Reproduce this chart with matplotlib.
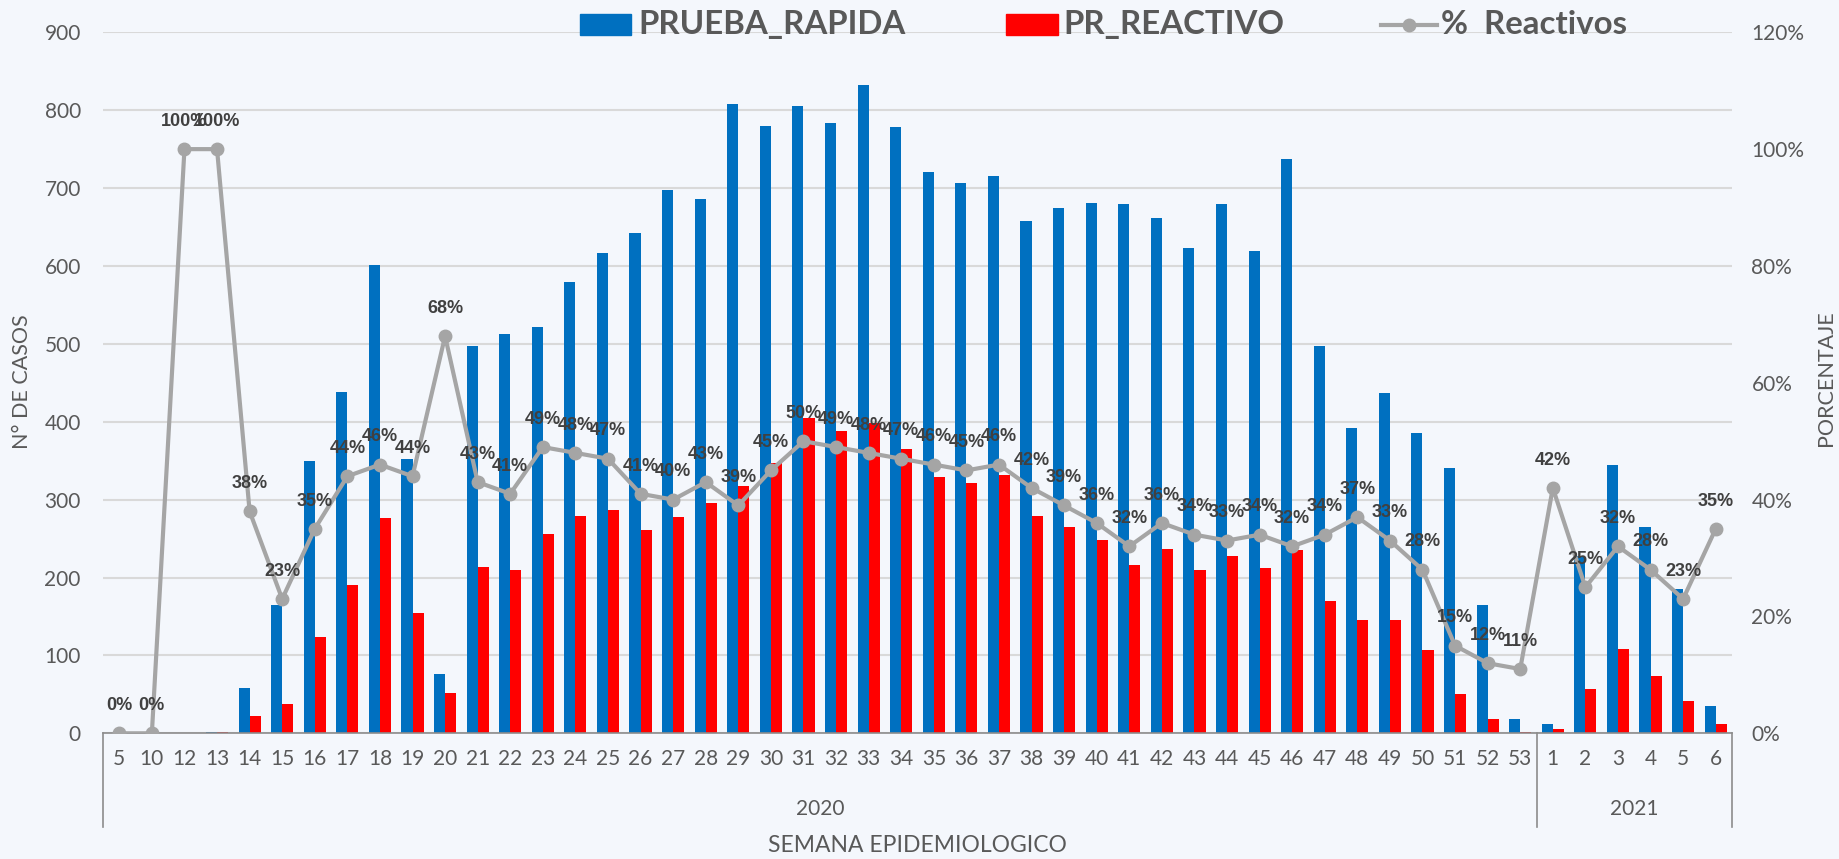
import numpy as np
import matplotlib
matplotlib.use("Agg")
import matplotlib.pyplot as plt
from matplotlib.patches import Rectangle
from matplotlib.lines import Line2D

weeks = ["5", "10", "12", "13", "14", "15", "16", "17", "18", "19", "20", "21", "22", "23", "24",
         "25", "26", "27", "28", "29", "30", "31", "32", "33", "34", "35", "36", "37", "38", "39",
         "40", "41", "42", "43", "44", "45", "46", "47", "48", "49", "50", "51", "52", "53",
         "1", "2", "3", "4", "5", "6"]
years = ["2020", "2021"]
n_2020 = 44

prueba_rapida = [0, 0, 1, 2, 58, 165, 350, 438, 601, 352, 76, 497, 513, 521, 580,
                 617, 642, 698, 686, 808, 780, 806, 783, 832, 779, 721, 706, 716, 658, 674,
                 681, 679, 661, 623, 679, 619, 737, 497, 392, 437, 386, 341, 165, 18,
                 12, 228, 344, 265, 185, 35]
pr_reactivo = [0, 0, 1, 2, 22, 37, 123, 190, 276, 155, 52, 213, 210, 256, 279,
               287, 261, 278, 296, 318, 347, 405, 388, 398, 365, 329, 321, 331, 279, 265,
               248, 216, 236, 210, 227, 212, 235, 170, 145, 145, 107, 50, 19, 2,
               5, 57, 108, 73, 42, 12]
pct_reactivos = [0, 0, 100, 100, 38, 23, 35, 44, 46, 44, 68, 43, 41, 49, 48,
                 47, 41, 40, 43, 39, 45, 50, 49, 48, 47, 46, 45, 46, 42, 39,
                 36, 32, 36, 34, 33, 34, 32, 34, 37, 33, 28, 15, 12, 11,
                 42, 25, 32, 28, 23, 35]

BLUE = "#0070C0"
RED = "#FF0000"
GRAY_LINE = "#A5A5A5"
TXT = "#595959"
LBL = "#404040"
BG = "#f4f7fc"

W, H = 1839, 859
fig = plt.figure(figsize=(W / 100, H / 100), dpi=100, facecolor=BG)

left, right = 103, 1732
top, bottom = 32.3, 733.3
ax = fig.add_axes([left / W, 1 - bottom / H, (right - left) / W, (bottom - top) / H])
ax.set_facecolor("none")

x = np.arange(len(weeks))
bw = 0.34
ax.bar(x - bw / 2, prueba_rapida, bw, color=BLUE, zorder=2)
ax.bar(x + bw / 2, pr_reactivo, bw, color=RED, zorder=2)

ax.set_xlim(-0.5, len(weeks) - 0.5)
ax.set_ylim(0, 900)
ax.set_yticks(np.arange(0, 901, 100))
ax.grid(axis="y", color="#d9d9d9", lw=1.5, zorder=0)
ax.set_axisbelow(True)
for s in ["left", "right", "top"]:
    ax.spines[s].set_visible(False)
ax.spines["bottom"].set_color("#8c8c8c")
ax.spines["bottom"].set_linewidth(1.2)

tick_font = dict(family=["Lato", "DejaVu Sans"], size=15, color=TXT)
ax.set_xticks(x)
ax.set_xticklabels(weeks, **tick_font)
ax.set_yticklabels([str(v) for v in range(0, 901, 100)], **tick_font)
ax.tick_params(axis="x", length=0, pad=11)
ax.tick_params(axis="y", length=0, pad=16)

ax2 = ax.twinx()
ax2.set_ylim(0, 1.2)
ax2.set_yticks(np.arange(0, 1.21, 0.2))
ax2.set_yticklabels([f"{int(round(v * 100))}%" for v in np.arange(0, 1.21, 0.2)], **tick_font)
ax2.tick_params(axis="y", length=0, pad=14)
for s in ax2.spines.values():
    s.set_visible(False)
pct = np.array(pct_reactivos) / 100
ax2.plot(x, pct, color=GRAY_LINE, lw=3, marker="o", ms=9, zorder=3)
for xi, p in zip(x, pct_reactivos):
    ax2.annotate(f"{p}%", (xi, p / 100), xytext=(0, 20), textcoords="offset points",
                 ha="center", va="center", fontsize=13, fontweight="bold", color=LBL,
                 family=["Liberation Sans Narrow", "Liberation Sans", "DejaVu Sans"], zorder=4)

# multi-level category axis
tr = ax.get_xaxis_transform()
sep_bottom = -(827 - 733.3) / (bottom - top)
for xs in [-0.5, n_2020 - 0.5, len(weeks) - 0.5]:
    ax.add_line(Line2D([xs, xs], [0, sep_bottom], transform=tr, color="#8c8c8c", lw=1.2, clip_on=False))
year_y = -(809 - 733.3) / (bottom - top)
ax.text((n_2020 - 1) / 2, year_y, years[0], transform=tr, ha="center", va="center", **tick_font)
ax.text((n_2020 - 0.5 + len(weeks) - 0.5) / 2, year_y, years[1], transform=tr, ha="center", va="center", **tick_font)

# axis titles
fig.text((left + right) / 2 / W, 1 - 846 / H, "SEMANA EPIDEMIOLOGICO", ha="center", va="center",
         family=["Lato", "DejaVu Sans"], size=16.5, color=TXT)
fig.text(22 / W, 1 - 382 / H, "N° DE CASOS", rotation=90, ha="center", va="center",
         family=["Lato", "DejaVu Sans"], size=15.5, color=TXT)
fig.text(1826 / W, 1 - 378 / H, "PORCENTAJE", rotation=90, ha="center", va="center",
         family=["Lato", "DejaVu Sans"], size=15.5, color=TXT)

# legend (manual, figure coordinates)
leg_font = dict(family=["Lato", "DejaVu Sans"], size=23.8, fontweight="bold", color=TXT)
ly = 24.5
fig.patches.append(Rectangle((580 / W, 1 - 35 / H), 51 / W, 21 / H, transform=fig.transFigure, color=BLUE))
fig.text(638 / W, 1 - ly / H, "PRUEBA_RAPIDA", ha="left", va="center", **leg_font)
fig.patches.append(Rectangle((1006 / W, 1 - 35 / H), 52 / W, 21 / H, transform=fig.transFigure, color=RED))
fig.text(1063 / W, 1 - ly / H, "PR_REACTIVO", ha="left", va="center", **leg_font)
fig.lines.append(Line2D([1381 / W, 1437 / W], [1 - ly / H, 1 - ly / H], transform=fig.transFigure,
                        color=GRAY_LINE, lw=3))
fig.lines.append(Line2D([1409 / W], [1 - ly / H], transform=fig.transFigure,
                        color=GRAY_LINE, marker="o", ms=9, lw=0))
fig.text(1441 / W, 1 - ly / H, "%  Reactivos", ha="left", va="center", **leg_font)

fig.savefig("out.png", dpi=100, facecolor=BG)
